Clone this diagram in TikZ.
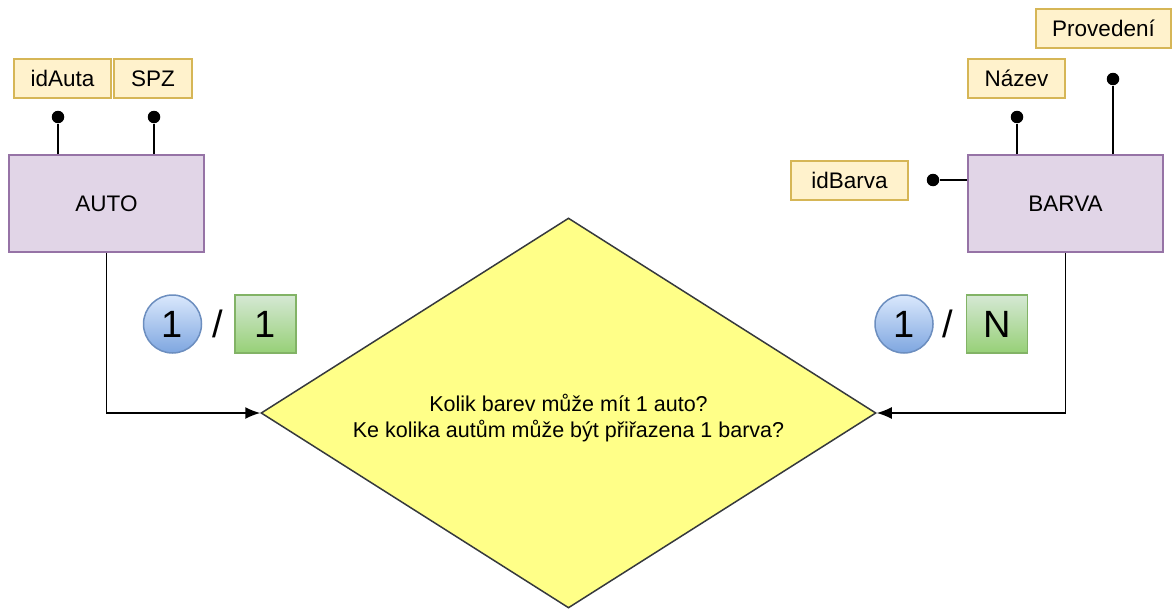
\documentclass[tikz,border=0pt]{standalone}
\usepackage{fontspec}
\setmainfont{Liberation Sans}
\usetikzlibrary{arrows.meta}
\usetikzlibrary{positioning}
\usetikzlibrary{shapes.geometric}
\definecolor{entfill}{HTML}{E1D5E7}
\definecolor{entdraw}{HTML}{9673A6}
\definecolor{attfill}{HTML}{FFF2CC}
\definecolor{attdraw}{HTML}{D6B656}
\definecolor{relfill}{HTML}{FFFF88}
\definecolor{reldraw}{HTML}{36393D}
\definecolor{onetop}{HTML}{DAE8FC}
\definecolor{onebot}{HTML}{7EA6E0}
\definecolor{onedraw}{HTML}{6C8EBF}
\definecolor{manytop}{HTML}{D5E8D4}
\definecolor{manybot}{HTML}{97D077}
\definecolor{manydraw}{HTML}{82B366}
\begin{document}
\begin{tikzpicture}[x=1pt,y=-1pt, line width=1.5pt,
  txt/.style={font=\fontsize{22.5}{26}\selectfont},
  entity/.style={txt, draw=entdraw, fill=entfill, minimum width=195pt, minimum height=97pt},
  attr/.style={txt, draw=attdraw, fill=attfill, minimum height=39pt, inner sep=0pt},
  pin/.style={circle, fill=black, inner sep=0pt, minimum size=12.5pt},
  big/.style={font=\fontsize{38}{44}\selectfont, inner sep=0pt},
  one/.style={big, circle, draw=onedraw, top color=onetop, bottom color=onebot, minimum size=58pt},
  many/.style={big, draw=manydraw, top color=manytop, bottom color=manybot, minimum width=61pt, minimum height=58pt}]
\useasboundingbox (0,0) rectangle (1174,610);
\node[entity] (auto) at (106.5,203.5) {AUTO};
\node[entity] (barva) at (1065.5,203.5) {BARVA};
\node[attr, minimum width=97pt] (idAuta) at (62.5,78.5) {idAuta};
\node[attr, minimum width=78pt] (spz) at (153,78.5) {SPZ};
\node[attr, minimum width=97pt] (nazev) at (1016.5,78.5) {Název};
\node[attr, minimum width=135pt] (provedeni) at (1103.5,28.5) {Provedení};
\node[attr, minimum width=117pt] (idBarva) at (849.5,180.5) {idBarva};
\node[pin] (pAuta) at (58,117) {};
\node[pin] (pSpz) at (154,117) {};
\node[pin] (pNazev) at (1017,117) {};
\node[pin] (pProvedeni) at (1113,79) {};
\node[pin] (pBarva) at (933,180) {};
\draw (auto.north -| pAuta) -- (pAuta);
\draw (auto.north -| pSpz) -- (pSpz);
\draw (barva.north -| pNazev) -- (pNazev);
\draw (barva.north -| pProvedeni) -- (pProvedeni);
\draw (barva.west |- pBarva) -- (pBarva);
\node[diamond, draw=reldraw, fill=relfill, minimum width=615pt, minimum height=390pt, inner sep=0pt] (rel) at (568.5,413) {};
\node[font=\fontsize{21.5}{25.5}\selectfont, align=center] (relText) at (568.5,418) {Kolik barev může mít 1 auto?\\Ke kolika autům může být přiřazena 1 barva?};
\draw [-{Latex[length=15pt, width=12pt]}] (auto.south) |- (rel.west);
\draw [-{Latex[length=15pt, width=12pt]}] (barva.south) |- (rel.east);
\node[one] (cAuto) at (172.5,324) {1};
\node[big] (sAuto) at (218,324) {/};
\node[many] (mAuto) at (265.5,324) {1};
\node[one] (cBarva) at (904,324) {1};
\node[big] (sBarva) at (948,324) {/};
\node[many] (mBarva) at (997,324) {N};
\end{tikzpicture}
\end{document}
